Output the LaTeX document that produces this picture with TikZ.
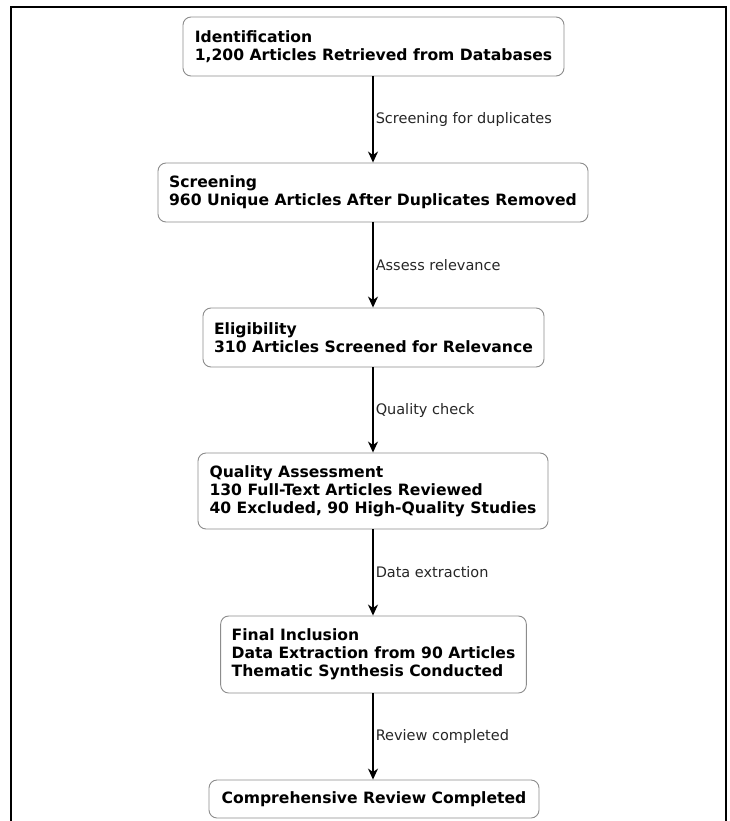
\documentclass[tikz,border=0pt]{standalone}
\usepackage{fontspec}
\setmainfont{DejaVu Sans}
\usetikzlibrary{arrows.meta}
\begin{document}
\begin{tikzpicture}[x=1pt,y=-1pt,
  stagebox/.style={draw=black!45, line width=0.9pt, rounded corners=8pt, fill=white,
    align=left, inner xsep=11pt, inner ysep=0pt,
    font=\bfseries\fontsize{15.6}{18}\selectfont, text=black},
  flow/.style={line width=1.5pt, -{Stealth[length=11pt,width=10pt,inset=3.5pt]}},
  steplabel/.style={right, inner sep=2pt, font=\fontsize{14.5}{16}\selectfont, text=black!85}]
  \useasboundingbox (0,0) rectangle (730,821);
  % outer frame, open at the bottom edge of the page
  \draw[line width=2pt] (11,830) -- (11,7) -- (726,7) -- (726,830);

  \node[stagebox, minimum width=381pt, minimum height=59pt] (ident) at (373.5,46.5)
    {Identification\\1,200 Articles Retrieved from Databases};
  \node[stagebox, minimum width=430pt, minimum height=59pt] (screen) at (373,192.5)
    {Screening\\960 Unique Articles After Duplicates Removed};
  \node[stagebox, minimum width=341pt, minimum height=59pt] (elig) at (373.5,337.5)
    {Eligibility\\310 Articles Screened for Relevance};
  \node[stagebox, minimum width=350pt, minimum height=76pt] (quality) at (373,491)
    {Quality Assessment\\130 Full-Text Articles Reviewed\\40 Excluded, 90 High-Quality Studies};
  \node[stagebox, minimum width=305pt, minimum height=77pt] (final) at (373.5,654.5)
    {Final Inclusion\\Data Extraction from 90 Articles\\Thematic Synthesis Conducted};
  \node[stagebox, minimum width=330pt, minimum height=38pt] (done) at (374,799)
    {Comprehensive Review Completed};

  \coordinate (ax) at (373,0);
  \draw[flow] (ident.south -| ax) -- node[steplabel] {Screening for duplicates} (screen.north -| ax);
  \draw[flow] (screen.south -| ax) -- node[steplabel] {Assess relevance} (elig.north -| ax);
  \draw[flow] (elig.south -| ax) -- node[steplabel] {Quality check} (quality.north -| ax);
  \draw[flow] (quality.south -| ax) -- node[steplabel] {Data extraction} (final.north -| ax);
  \draw[flow] (final.south -| ax) -- node[steplabel] {Review completed} (done.north -| ax);
\end{tikzpicture}
\end{document}
